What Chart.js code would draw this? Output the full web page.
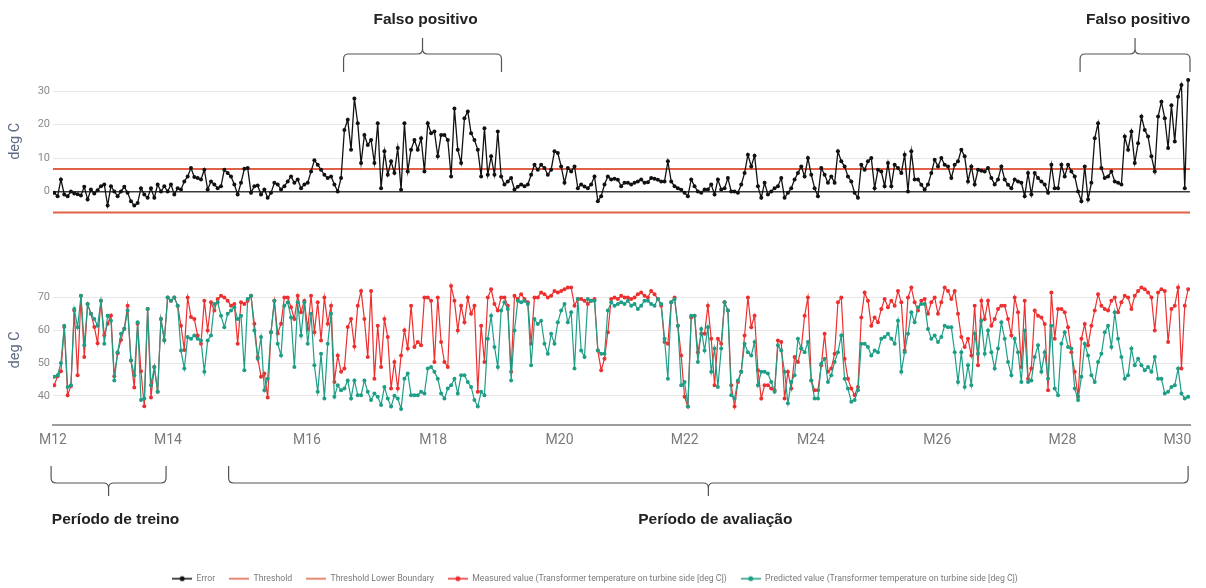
<!DOCTYPE html>
<html>
<head>
<meta charset="utf-8">
<script src="https://cdn.jsdelivr.net/npm/chart.js@4/dist/chart.umd.min.js"></script>
<style>
  html, body { margin: 0; padding: 0; background: #ffffff; }
  #wrap { position: relative; width: 1206px; height: 588px; }
  canvas { display: block; }
</style>
</head>
<body>
<div id="wrap"><canvas id="chart" width="1206" height="588"></canvas></div>
<script>
// Month labels on the time axis and where each one sits (in months)
const monthLabels = ['M12', 'M14', 'M16', 'M18', 'M20', 'M22', 'M24', 'M26', 'M28', 'M30'];
const monthTickAt = [12.0, 13.82, 16.02, 18.02, 20.02, 22.0, 24.0, 26.0, 27.98, 29.8];
// Gridline values of each panel
const errorTicks = [0, 10, 20, 30];
const tempTicks = [40, 50, 60, 70];

// Time span covered by the samples (in months)
const firstSample = 12.02;
const lastSample = 29.97;

// Alarm thresholds on the error (deg C)
const thresholdUpper = 6.7;
const thresholdLower = -6.3;

// Error between measured and predicted value (deg C)
const errorValues = [
  -0.4,-1.4,3.6,-0.9,-1.4,0,-0.6,-0.8,-1.2,1.4,
  -2.4,0.6,-0.6,0.4,1.6,2.1,-4.2,1.6,0,-1.4,
  0,1.4,-0.4,-2.9,-4.2,-3.4,1.0,-0.9,-1.9,1.0,
  -1.9,2.1,0,1.6,0,2.1,-0.9,1.0,0.6,3.0,
  4.5,7.0,4.3,4.0,3.6,6.5,0.6,3.0,2.1,1.0,
  1.6,6.5,5.5,4.5,2.1,-0.9,2.6,6.8,7.0,-0.4,
  1.6,1.8,-0.9,0.6,-1.9,-0.4,2.6,2.1,0.6,1.6,
  3.0,4.5,2.6,3.6,1.0,2.1,2.6,6.0,9.3,8.0,
  6.5,5.0,4.0,4.5,2.1,0,4.0,18.4,21.4,12.5,
  27.8,20.4,8.5,16.9,13.9,15.4,8.5,20.4,1.0,12.0,
  5.0,9.0,5.5,13.0,0.5,
  20.4,6.0,12.5,15.4,12.5,15.9,6.0,20.4,17.4,17.9,
  10.5,16.9,16.9,15.4,4.5,24.8,12.5,8.5,21.9,23.9,
  17.4,15.4,12.5,4.5,18.9,5.0,10.5,5.0,17.9,4.5,
  2.1,3.0,4.0,0.6,1.4,2.1,1.6,2.1,5.0,8.0,
  6.5,8.0,7.0,5.0,6.5,12.0,11.5,7.5,2.6,7.0,
  6.0,7.5,1.0,2.1,1.5,1.0,2.1,4.5,-2.9,-1.4,
  2.1,4.5,3.6,3.8,3.5,1.6,2.6,2.6,2.1,2.6,
  3.0,3.6,2.6,2.8,4.0,3.8,3.5,3.0,3.0,9.0,
  3.0,1.6,1.0,0.5,-0.4,-1.4,3.6,1.6,0,-0.4,
  0.6,0.6,2.1,-0.9,3.6,0.6,1.0,4.0,0,0,
  -0.4,2.1,5.5,11.0,7.5,10.7,1.6,-1.9,2.6,-0.9,
  0,1.0,1.6,4.0,-1.9,-0.4,1.0,3.6,5.5,7.5,
  4.5,10.0,5.0,1.0,-1.4,7.0,5.0,2.6,4.5,2.6,
  12.0,9.0,7.5,4.5,3.0,-0.4,-1.9,8.0,6.5,9.0,
  10.0,1.0,6.5,6.0,1.6,8.5,1.6,8.0,7.0,5.5,
  11.0,0,12.0,3.6,3.6,2.0,0.6,2.1,5.5,9.5,
  7.5,10.0,8.0,7.5,4.0,8.0,9.0,12.5,10.5,3.0,
  7.5,2.1,6.5,6.2,6.0,7.0,4.0,2.1,3.6,7.5,
  3.6,2.0,1.0,3.6,3.0,2.6,-1.4,5.5,-0.9,5.5,
  4.0,3.0,2.1,-0.4,8.0,1.0,1.0,8.0,4.5,8.0,
  6.0,4.5,0,-2.9,7.5,-2.4,2.6,15.9,20.4,7.0,
  4.0,4.5,6.0,3.0,2.6,2.1,16.4,12.5,17.9,8.5,
  14.4,22.4,18.4,16.4,10.5,6.0,22.4,26.8,21.9,13.0,
  25.8,14.9,28.3,31.8,1.0,33.3
];

// Measured transformer temperature on turbine side (deg C)
const measuredValues = [
  43.2,46,47.5,61,40.2,43,66,46.3,70.5,51.8,
  68,65,61,56,69,58.5,62,64.5,46,53,
  57,60.5,67.5,50.8,42.5,62,47.5,36.8,66.5,39.5,
  48.8,41.2,63.4,57,70,69,70,67.5,61.4,54,
  70,64,63.4,58.4,55.9,69,59.9,68.5,66,69.5,
  70.5,70,69,67.5,68,55.9,68.5,68,69,70.5,
  62,51.8,45.8,46.8,39.5,59.4,69,59,62,70,
  70,67,63.4,70.5,65.5,69,60.4,70.5,59.4,68.5,
  56.9,70,62,67.5,44.2,52.3,47.3,48.3,61,63.4,
  55,67.5,72,63.4,51.8,72,45.2,61.4,48.8,63.4,
  57.9,42.2,50.3,42.2,52.3,
  60,54.4,67.5,54.9,56.4,55.4,70,70,69,50.3,
  70,56.4,50.3,48.8,73.5,69,59.9,67.5,62.4,70,
  65,67.5,41.2,61.4,50.3,70,72.5,68,66,70,
  70,67.5,47.3,70.5,69.5,71,69.5,68.5,55.9,70,
  70,71.5,71,70,70.5,72,71.5,72,72.5,73,
  73,67.5,69.5,69.5,69,68,69,69.5,53.8,47.8,
  51.3,59.4,69.5,70,69.5,70.5,70,70,69.5,70,
  71,71.5,70.5,70,72,71,69.5,67.5,56.4,55.9,
  68.5,70,61.4,52.3,39.7,36.7,63.9,64.4,53.3,58.9,
  58.9,67.5,57.4,43.2,57.4,55.9,68.5,66,43.2,36.7,
  44.2,47.3,58.4,70,60.9,64.4,47.8,39.2,43.2,43.2,
  42.2,41.7,56.9,56.4,39.2,47.3,42.2,51.8,50.3,54.4,
  64.4,70,44.7,41.7,41.7,49.3,58.9,47.3,48.3,52.8,
  68.5,70,51.3,45.2,42.2,40.2,42.7,63.9,71.5,69,
  61.4,63.9,62.4,66.5,69.5,67,69,67.5,72,68.5,
  53.8,70,73,68.5,66,69,69.5,65,68.5,70,
  65,68.5,73,72,69.5,72,65,57.9,54.9,57.4,
  52.3,67.5,49.3,69,63.4,69,61.4,63.4,66.5,67.5,
  67.5,63.4,58.4,70,65.5,48.8,69,45.2,48.3,66,
  64.4,63.9,61.9,41.7,71.5,57.4,66.5,66.5,65.5,60.9,
  53.3,47.3,39.7,57.4,61.9,55.4,61.4,66,71,67.5,
  66.5,66,69,70,65.5,68.5,70.5,70,66.5,70.5,
  72,73,72.5,71.5,70,59.9,71.5,72.5,72,56.4,
  66.5,67.5,73,48.3,67.5,72.5
];

// Model prediction of the same temperature (deg C)
const predictedValues = [
  45.8,46.3,50,61.4,42.7,43.2,66.5,60.9,70.5,55.4,
  68,65,63.4,61.4,69,55.9,64.4,62.9,44.7,53.3,
  58.9,60.4,66,50.8,46.3,62.4,38.7,39.2,66.5,43.2,
  48.8,41.2,63.4,56.9,70,69,70,67.5,53.8,48.3,
  57.9,57.4,58.4,57.4,56.9,47.3,56.9,58.4,68,68.5,
  64.4,60.9,65,66,67,63.4,64.4,47.8,69.5,70.5,
  59.9,51.3,57.9,41.7,45.2,59.4,69,55.9,52.3,67.5,
  68.5,63.9,48.8,68.5,58.4,68.5,55.9,65,49.3,41.2,
  52.8,39.2,55.9,65,39.7,43.2,41.7,42.2,44.7,39.2,
  44.7,40.2,40.2,44.7,41.2,38.7,40.7,39.7,37.2,42.7,
  39.2,36.7,40,39.2,36,
  45.2,46.8,40.2,40.2,40.2,41.2,40.7,48.3,48.8,47.3,
  45.2,40.7,39.2,42.2,43.2,45.2,40.7,46.3,46.3,44.2,
  42.7,38.7,36.7,41.2,40.2,57.4,64.4,54.9,48.8,66,
  68.5,66.5,44.7,59.9,69,68.5,69,68,49.3,63.4,
  61.9,62.9,55.9,52.8,58.9,55.9,62.4,66,68,62.4,
  65.5,48.3,69.5,53.8,51.8,69.5,69,69,53.8,52.8,
  52.8,66,68.5,67.5,68,68.5,68,69,67.5,68,
  66.5,67.5,69,69,68,67.5,69.5,68,57.4,45.2,
  68.5,69.5,61.4,43.2,44.2,36.7,64.4,64.4,50.3,60.4,
  53.8,60.9,47.3,54.4,42.7,54.4,68.5,66,40.2,39.2,
  44.7,47.3,55.9,53.3,52.3,56.4,43.2,47.3,47.3,46.8,
  44.2,41.2,55.4,53.8,47.3,37.7,44.2,46.3,57.4,54.4,
  53.3,56.4,44.7,39.2,39.2,49.8,51.3,44.2,46.3,50.3,
  53.3,58.4,45.2,42.2,38.2,38.7,41.7,55.9,55.9,54.9,
  52.3,53.8,53.3,57.4,57.9,58.9,57.4,55.9,62.9,47.3,
  53.3,58.9,65.5,62.4,67,68,68,60.4,57.4,58.4,
  56.4,57.9,61.4,60.9,60.9,53.3,44.2,53.3,42.7,49.3,
  43.2,58.9,52.8,62.9,52.8,59.9,53.3,48.3,54.4,62.4,
  57.4,50.3,46.3,57.4,53.3,44.2,59.9,44.2,44.7,51.8,
  55.4,47.3,53.3,45.2,61.4,42.2,40.2,55.9,59.4,54.9,
  54.4,42.2,38.7,45.8,55.9,52.3,46.3,44.2,50.3,52.8,
  59.4,61.4,54.9,65.5,57.4,51.8,45.2,46.3,54.4,49.3,
  51.3,49.3,47.8,48.8,47.3,51.8,45.2,45.2,40.7,41.2,
  42.7,43.2,48.3,40.7,39.2,39.7
];

// Highlighted periods (in months)
const falsePositiveSpans = [
  { label: 'Falso positivo', from: 16.6, to: 19.1 },
  { label: 'Falso positivo', from: 28.26, to: 30.0 }
];
const periodSpans = [
  { label: 'Período de treino', from: 11.97, to: 13.79 },
  { label: 'Período de avaliação', from: 14.78, to: 29.97 }
];

const COLORS = {
  error: '#111111',
  threshold: '#df6247',
  measured: '#ee2f2f',
  predicted: '#1d9e86'
};

function toPoints(values) {
  const step = (lastSample - firstSample) / (values.length - 1);
  return values.map((v, i) => ({ x: firstSample + i * step, y: v }));
}

function legendGlyph(color, withDot) {
  const c = document.createElement('canvas');
  c.width = 20; c.height = 8;
  const g = c.getContext('2d');
  g.strokeStyle = color; g.lineWidth = 1.5;
  g.beginPath(); g.moveTo(0, 4); g.lineTo(20, 4); g.stroke();
  if (withDot) {
    g.fillStyle = color;
    g.beginPath(); g.arc(10, 4, 2.5, 0, Math.PI * 2); g.fill();
  }
  return c;
}

function drawBrace(ctx, x1, x2, yLine, yEnd, yTip) {
  const xm = (x1 + x2) / 2;
  const dir = Math.sign(yEnd - yLine);
  const r = 5;
  ctx.beginPath();
  ctx.moveTo(x1, yEnd);
  ctx.lineTo(x1, yLine + dir * r);
  ctx.quadraticCurveTo(x1, yLine, x1 + r, yLine);
  ctx.lineTo(xm - r, yLine);
  ctx.quadraticCurveTo(xm, yLine, xm, yLine - dir * r);
  ctx.lineTo(xm, yTip);
  ctx.moveTo(xm, yLine - dir * r);
  ctx.quadraticCurveTo(xm, yLine, xm + r, yLine);
  ctx.lineTo(x2 - r, yLine);
  ctx.quadraticCurveTo(x2, yLine, x2, yLine + dir * r);
  ctx.lineTo(x2, yEnd);
  ctx.stroke();
}

// Braces, period captions and the per-panel axis titles
const annotationPlugin = {
  id: 'periodAnnotations',
  afterLayout(chart) {
    // legend sits a little lower than the default bottom block
    chart.legend.top += 5;
    chart.legend.bottom += 5;
  },
  afterDraw(chart) {
    const ctx = chart.ctx;
    const x = chart.scales.x;
    ctx.save();
    ctx.strokeStyle = '#555555';
    ctx.lineWidth = 1.2;
    ctx.fillStyle = '#222222';
    ctx.font = 'bold 15.5px "Liberation Sans", Arial, sans-serif';
    ctx.textAlign = 'center';
    ctx.textBaseline = 'middle';
    falsePositiveSpans.forEach(s => {
      const x1 = x.getPixelForValue(s.from), x2 = x.getPixelForValue(s.to);
      drawBrace(ctx, x1, x2, 54, 72, 38);
      ctx.fillText(s.label, (x1 + x2) / 2 + 3, 20);
    });
    periodSpans.forEach(s => {
      const x1 = x.getPixelForValue(s.from), x2 = x.getPixelForValue(s.to);
      drawBrace(ctx, x1, x2, 483, 466, 496);
      ctx.fillText(s.label, (x1 + x2) / 2 + 7, 520);
    });
    // axis titles of both panels
    ctx.fillStyle = '#5c6b82';
    ctx.font = '14.5px Roboto, sans-serif';
    [[chart.scales.yErr, 15], [chart.scales.yTemp, 54]].forEach(([s, v]) => {
      ctx.save();
      ctx.translate(15, s.getPixelForValue(v));
      ctx.rotate(-Math.PI / 2);
      ctx.fillText('deg C', 0, 0);
      ctx.restore();
    });
    ctx.restore();
  }
};

const glyphs = [
  legendGlyph(COLORS.error, true),
  legendGlyph(COLORS.threshold, false),
  legendGlyph(COLORS.threshold, false),
  legendGlyph(COLORS.measured, true),
  legendGlyph(COLORS.predicted, true)
];

const seriesStyle = (color) => ({
  borderColor: color,
  backgroundColor: color,
  pointBackgroundColor: color,
  pointBorderWidth: 0,
  pointRadius: 2,
  borderWidth: 1.2,
  tension: 0,
  fill: false
});

new Chart(document.getElementById('chart'), {
  type: 'line',
  data: {
    datasets: [
      Object.assign({ label: 'Error', yAxisID: 'yErr', order: 0,
        data: toPoints(errorValues) }, seriesStyle(COLORS.error), { borderWidth: 1.3 }),
      { label: 'Threshold', yAxisID: 'yErr', order: 1,
        data: [{ x: 12, y: thresholdUpper }, { x: 30, y: thresholdUpper }],
        borderColor: COLORS.threshold, backgroundColor: COLORS.threshold,
        borderWidth: 2, pointRadius: 0, fill: false },
      { label: 'Threshold Lower Boundary', yAxisID: 'yErr', order: 2,
        data: [{ x: 12, y: thresholdLower }, { x: 30, y: thresholdLower }],
        borderColor: COLORS.threshold, backgroundColor: COLORS.threshold,
        borderWidth: 2, pointRadius: 0, fill: false },
      Object.assign({ label: 'Measured value (Transformer temperature on turbine side [deg C])',
        yAxisID: 'yTemp', order: 4, data: toPoints(measuredValues) }, seriesStyle(COLORS.measured)),
      Object.assign({ label: 'Predicted value (Transformer temperature on turbine side [deg C])',
        yAxisID: 'yTemp', order: 3, data: toPoints(predictedValues) }, seriesStyle(COLORS.predicted))
    ]
  },
  options: {
    responsive: false,
    animation: false,
    parsing: false,
    layout: { padding: { top: 75, right: 16, left: 0, bottom: 0 } },
    plugins: {
      tooltip: { enabled: false },
      legend: {
        position: 'bottom',
        labels: {
          usePointStyle: true,
          pointStyleWidth: 20,
          boxHeight: 8,
          padding: 14,
          color: '#7a7a7a',
          font: { family: 'Roboto', size: 8.7 },
          sort: (a, b) => a.datasetIndex - b.datasetIndex,
          generateLabels(chart) {
            const items = Chart.defaults.plugins.legend.labels.generateLabels(chart);
            items.forEach(it => { it.pointStyle = glyphs[it.datasetIndex]; });
            return items;
          }
        }
      }
    },
    scales: {
      x: {
        type: 'linear',
        min: 12,
        max: 30,
        afterBuildTicks: s => { s.ticks = monthTickAt.map(v => ({ value: v })); },
        afterFit: s => { s.height = 130; },
        ticks: {
          callback: (v, i) => monthLabels[i],
          color: '#7a7a7a',
          font: { family: 'Roboto', size: 14 },
          padding: 7,
          maxRotation: 0,
          autoSkip: false
        },
        grid: { display: false, drawTicks: false },
        border: { display: true, color: '#9c9c9c', width: 2 }
      },
      yTemp: {
        position: 'left',
        stack: 'panels',
        stackWeight: 185,
        min: 31,
        max: 87,
        afterBuildTicks: s => { s.ticks = tempTicks.map(v => ({ value: v })); },
        afterFit: s => { s.width = 53; },
        ticks: { color: '#8a8a8a', font: { family: 'Roboto', size: 11 }, padding: 3 },
        grid: { color: '#e6e6e6', lineWidth: 1, drawTicks: false },
        border: { display: false }
      },
      yErr: {
        position: 'left',
        stack: 'panels',
        stackWeight: 168,
        min: -15,
        max: 34.8,
        afterBuildTicks: s => { s.ticks = errorTicks.map(v => ({ value: v })); },
        afterFit: s => { s.width = 53; },
        ticks: { color: '#8a8a8a', font: { family: 'Roboto', size: 11 }, padding: 3 },
        grid: {
          color: c => (c.tick && c.tick.value === 0 ? '#3c3c3c' : '#e6e6e6'),
          lineWidth: c => (c.tick && c.tick.value === 0 ? 1.6 : 1),
          drawTicks: false
        },
        border: { display: false }
      }
    }
  },
  plugins: [annotationPlugin]
});
</script>
</body>
</html>
